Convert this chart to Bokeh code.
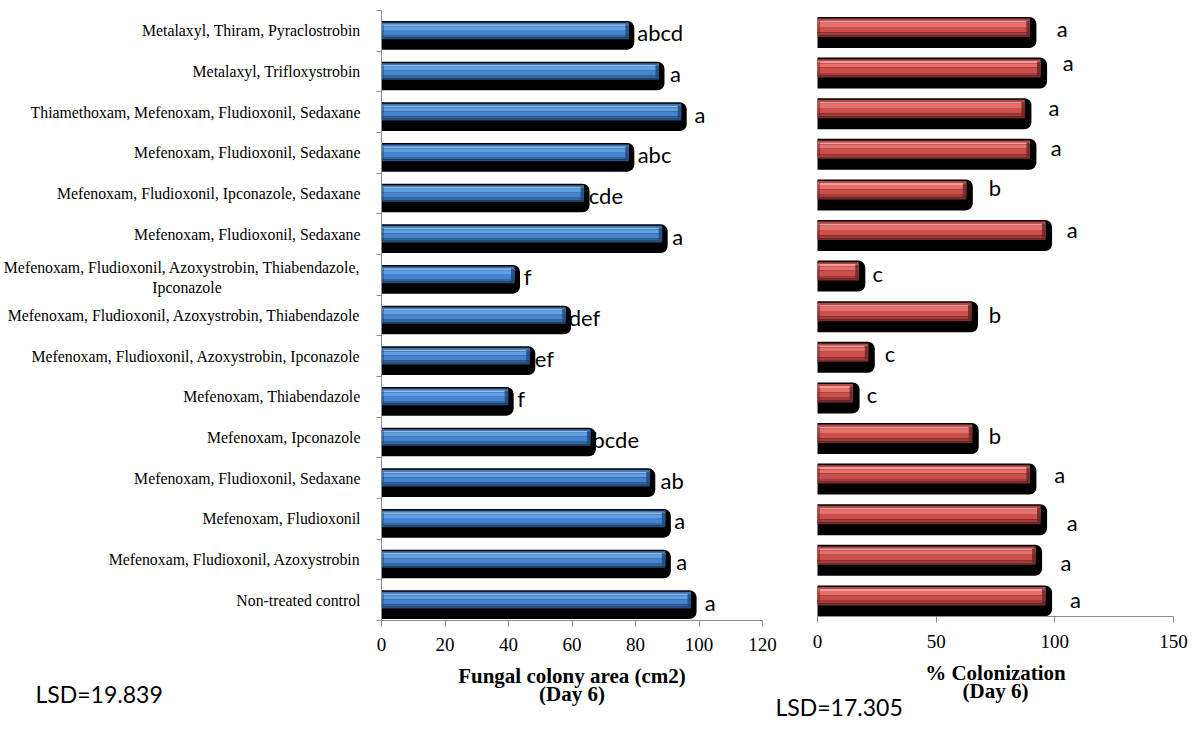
from bokeh.plotting import figure
from bokeh.models import Range1d, FixedTicker, LinearAxis
from bokeh.embed import file_html
from bokeh.resources import INLINE
from bokeh.core.properties import value

# Seed-treatment combinations, listed top to bottom
treatments = [
    "Metalaxyl, Thiram, Pyraclostrobin",
    "Metalaxyl, Trifloxystrobin",
    "Thiamethoxam, Mefenoxam, Fludioxonil, Sedaxane",
    "Mefenoxam, Fludioxonil, Sedaxane",
    "Mefenoxam, Fludioxonil, Ipconazole, Sedaxane",
    "Mefenoxam, Fludioxonil, Sedaxane",
    "Mefenoxam, Fludioxonil, Azoxystrobin, Thiabendazole,\nIpconazole",
    "Mefenoxam, Fludioxonil, Azoxystrobin, Thiabendazole",
    "Mefenoxam, Fludioxonil, Azoxystrobin, Ipconazole",
    "Mefenoxam, Thiabendazole",
    "Mefenoxam, Ipconazole",
    "Mefenoxam, Fludioxonil, Sedaxane",
    "Mefenoxam, Fludioxonil",
    "Mefenoxam, Fludioxonil, Azoxystrobin",
    "Non-treated control",
]

# Fungal colony area (cm2), day 6, with mean-separation letters
colony_area = [77.9, 87.4, 94.4, 77.9, 63.8, 88.4, 41.9, 58.0, 46.7, 39.9, 65.8, 84.5, 89.4, 89.4, 97.5]
area_groups = ["abcd", "a", "a", "abc", "cde", "a", "f", "def", "ef", "f", "bcde", "ab", "a", "a", "a"]
area_ticks = [0, 20, 40, 60, 80, 100, 120]
area_title = "Fungal colony area (cm2)\n(Day 6)"
area_lsd = "LSD=19.839"

# Percent colonization, day 6, with mean-separation letters
colonization = [89.5, 94.0, 87.4, 89.5, 62.7, 96.1, 17.4, 64.9, 21.4, 15.0, 65.2, 89.5, 94.0, 91.9, 96.1]
colon_groups = ["a", "a", "a", "a", "b", "a", "c", "b", "c", "c", "b", "a", "a", "a", "a"]
colon_ticks = [0, 50, 100, 150]
colon_title = "% Colonization\n(Day 6)"
colon_lsd = "LSD=17.305"

n = len(treatments)
ys = list(range(n, 0, -1))

W, H = 1194, 742
AXIS_GREY = "#8c8c8c"
SERIF = "Liberation Serif"
SANS = "Lato"

# pixel geometry of the two plotting areas
L_X0, L_X1, L_Y0, L_Y1 = 381, 762, 10, 620     # colony-area panel
R_X0, R_X1, R_Y0, R_Y1 = 817, 1173, 7, 616     # colonization panel
ppx_l = (L_X1 - L_X0) / area_ticks[-1]
ppy_l = (L_Y1 - L_Y0) / n
ppx_r = (R_X1 - R_X0) / colon_ticks[-1]
ppy_r = (R_Y1 - R_Y0) / n

# label placement tweaks (pixels)
area_label_dx = [8.4, 11, 13.3, 8.8, 4.7, 10, 9.3, 3, 5, 9, 2, 10.7, 9, 11, 13.6]
colon_label_dx = [32.4, 27.7, 29, 26.4, 28.6, 26.7, 19, 23.3, 21.6, 19, 22.6, 29.8, 31.7, 30.3, 30]
colon_label_dy = [1, -6, -2, -2, -3, -1, 2, 2, 1, 1, 2, 0, 7.5, 7, 3.6]

blue_layers = [
    (0.00, 0.10, "#3a74bd"),
    (0.10, 0.22, "#8cc0f2"),
    (0.22, 0.45, "#62a0e6"),
    (0.45, 0.75, "#4684d2"),
    (0.75, 0.90, "#33679f"),
    (0.90, 1.00, "#274f80"),
]
red_layers = [
    (0.00, 0.10, "#b94542"),
    (0.10, 0.22, "#f49a97"),
    (0.22, 0.45, "#e8706c"),
    (0.45, 0.75, "#cc4f4c"),
    (0.75, 0.90, "#a33d3a"),
    (0.90, 1.00, "#7c2c2a"),
]

p = figure(width=W, height=H, output_backend="svg", toolbar_location=None,
           x_range=Range1d(-L_X0 / ppx_l, (W - L_X0) / ppx_l),
           y_range=Range1d(0.5 - (H - L_Y1) / ppy_l, n + 0.5 + L_Y0 / ppy_l),
           x_axis_type=None, y_axis_type=None, min_border=0)
p.extra_x_ranges = {"colon": Range1d(-R_X0 / ppx_r, (W - R_X0) / ppx_r)}
p.extra_y_ranges = {"colon_y": Range1d(0.5 - (H - R_Y1) / ppy_r, n + 0.5 + R_Y0 / ppy_r)}
p.outline_line_color = None
p.grid.visible = False
p.background_fill_color = "white"
p.border_fill_color = "white"


def bottom_axis(ticks, title, standoff, title_standoff, **ranges):
    ax = LinearAxis(fixed_location=0.5, bounds=(ticks[0], ticks[-1]),
                    ticker=FixedTicker(ticks=ticks), axis_label=title, **ranges)
    ax.axis_line_color = AXIS_GREY
    ax.major_tick_line_color = AXIS_GREY
    ax.major_tick_out = 6
    ax.major_tick_in = 0
    ax.minor_tick_line_color = None
    ax.major_label_text_font = SERIF
    ax.major_label_text_font_size = "19px"
    ax.major_label_text_color = "black"
    ax.major_label_standoff = standoff
    ax.axis_label_text_font = SERIF
    ax.axis_label_text_font_style = "bold"
    ax.axis_label_text_font_size = "21px"
    ax.axis_label_text_line_height = 0.75
    ax.axis_label_text_color = "black"
    ax.axis_label_standoff = title_standoff
    p.add_layout(ax, "below")


bottom_axis(area_ticks, area_title, 11, 10)
bottom_axis(colon_ticks, colon_title, 12, 10, x_range_name="colon", y_range_name="colon_y")

# treatment axis: names at row centres, short ticks on the row boundaries
first_lines = [t.split("\n")[0] for t in treatments]
second_lines = [t.split("\n")[1] if "\n" in t else "" for t in treatments]
name_pos = [y + (7 / ppy_l if second else 0) for y, second in zip(ys, second_lines)]
name_pos = [round(v, 4) for v in name_pos]
bounds = [i + 0.5 for i in range(n + 1)]
yax = LinearAxis(fixed_location=0, bounds=(0.5, n + 0.5),
                 ticker=FixedTicker(ticks=name_pos, minor_ticks=bounds),
                 major_label_overrides=dict(zip(name_pos, first_lines)))
yax.axis_line_color = AXIS_GREY
yax.major_tick_line_color = None
yax.major_tick_out = 0
yax.major_tick_in = 0
yax.minor_tick_line_color = AXIS_GREY
yax.minor_tick_out = 5
yax.minor_tick_in = 0
yax.major_label_standoff = 16
yax.major_label_text_font = SERIF
yax.major_label_text_font_size = "15.8px"
yax.major_label_text_color = "black"
p.add_layout(yax, "left")

# wrapped remainder of the long treatment name, centred under its first line
wrap_rows = [y for y, s in zip(ys, second_lines) if s]
wrap_text = [s for s in second_lines if s]
p.text(x=[(186.5 - L_X0) / ppx_l] * len(wrap_rows), y=wrap_rows, text=wrap_text, y_offset=13,
       text_align="center", text_baseline="middle",
       text_font=value(SERIF), text_font_size="15.8px", text_color="black")


def draw_bars(vals, ppx, ppy, bar_px, layers, bevel, shadow_dx, shadow_dy, shadow_up, **ranges):
    h = bar_px / ppy
    top = [y + h / 2 for y in ys]
    bot = [y - h / 2 for y in ys]
    p.quad(left=0, right=[v + shadow_dx / ppx for v in vals],
           top=[t + shadow_up / ppy for t in top], bottom=[b - shadow_dy / ppy for b in bot],
           fill_color="black", line_color=None, border_radius=(0, 7, 7, 0), **ranges)
    for f0, f1, col in layers:
        p.quad(left=0, right=vals,
               top=[t - f0 * h for t in top], bottom=[t - f1 * h for t in top],
               fill_color=col, line_color=None, **ranges)
    # darker facet at the end of each bar
    p.quad(left=[v - 3.5 / ppx for v in vals], right=vals,
           top=[t - 0.12 * h for t in top], bottom=[b + 0.12 * h for b in bot],
           fill_color=bevel, line_color=None, fill_alpha=0.85, **ranges)
    # facet at the start
    p.quad(left=0, right=[2.5 / ppx] * n,
           top=[t - 0.12 * h for t in top], bottom=[b + 0.12 * h for b in bot],
           fill_color=bevel, line_color=None, fill_alpha=0.5, **ranges)


# group letters go underneath the bars so the shadows can overlap them
p.text(x=colony_area, y=ys, text=area_groups, x_offset=area_label_dx, y_offset=2,
       text_align="left", text_baseline="middle",
       text_font=value(SANS), text_font_size="22px", text_color="black")
draw_bars(colony_area, ppx_l, ppy_l, 16.6, blue_layers, "#1f4a7c", 5.5, 10.5, 1.5)

colon_kw = dict(x_range_name="colon", y_range_name="colon_y")
p.text(x=colonization, y=ys, text=colon_groups, x_offset=colon_label_dx, y_offset=colon_label_dy,
       text_align="center", text_baseline="middle",
       text_font=value(SANS), text_font_size="22px", text_color="black", **colon_kw)
draw_bars(colonization, ppx_r, ppy_r, 18.4, red_layers, "#6e2523", 6.5, 11, 1.6, **colon_kw)

# least significant differences
p.text(x=[(35 - L_X0) / ppx_l], y=[n + 0.5 - (693 - L_Y0) / ppy_l], text=[area_lsd],
       text_align="left", text_baseline="middle",
       text_font=value(SANS), text_font_size="23px", text_color="black")
p.text(x=[(775 - R_X0) / ppx_r], y=[n + 0.5 - (706 - R_Y0) / ppy_r], text=[colon_lsd],
       text_align="left", text_baseline="middle",
       text_font=value(SANS), text_font_size="23px", text_color="black", **colon_kw)

open("out.html", "w").write(file_html(p, INLINE))
